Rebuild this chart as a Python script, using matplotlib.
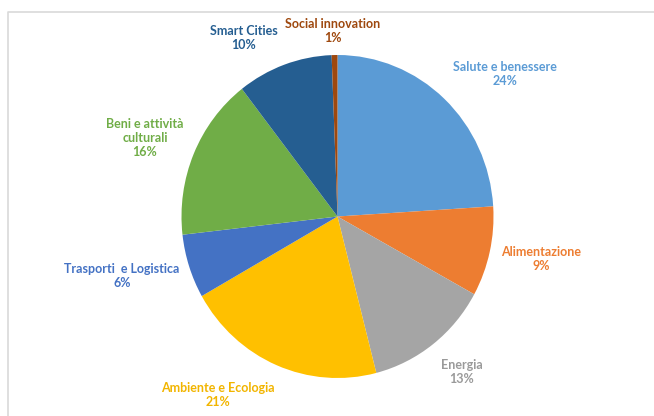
import matplotlib.pyplot as plt

labels = ['Salute e benessere', 'Alimentazione', 'Energia', 'Ambiente e Ecologia',
          'Trasporti  e Logistica', 'Beni e attività\nculturali', 'Smart Cities', 'Social innovation']
values = [24.0, 9.0, 13.0, 20.8, 6.4, 16.3, 9.9, 0.6]
colors = ['#5B9BD5', '#ED7D31', '#A5A5A5', '#FFC000', '#4472C4', '#70AD47', '#255E91', '#9E480E']
label_colors = ['#5B9BD5', '#ED7D31', '#9A9A9A', '#F2B500', '#4472C4', '#70AD47', '#255E91', '#9E480E']

# label anchor points (pixel coords, y from top)
label_pos = [(505, 74), (541, 259), (462, 372), (218, 395),
             (122, 276), (145, 138), (244, 38), (333, 31)]

W, H = 654, 416
fig = plt.figure(figsize=(W / 100, H / 100), dpi=100)
ax = fig.add_axes([0, 0, 1, 1])
ax.set_xlim(0, W)
ax.set_ylim(0, H)
ax.axis('off')

# chart frame
ax.plot([8, 8, W + 5], [-5, H - 12, H - 12], color='#D9D9D9', lw=1.2)

# pie is slightly squashed horizontally in the reference
cx, cy, rx, ry = 337.5, 216.5, 156, 161.5
pax = fig.add_axes([(cx - rx) / W, (H - cy - ry) / H, 2 * rx / W, 2 * ry / H])
pax.pie(values, colors=colors, startangle=90, counterclock=False, radius=1,
        wedgeprops={'linewidth': 0})
pax.set_xlim(-1, 1)
pax.set_ylim(-1, 1)
pax.set_aspect('auto')
pax.axis('off')

for lab, v, c, (x, y) in zip(labels, values, label_colors, label_pos):
    ax.text(x, H - y, f'{lab}\n{round(v)}%', ha='center', va='center', color=c,
            fontsize=9, fontweight='bold', family='Lato', linespacing=1.25)

fig.savefig('out.png', dpi=100)
